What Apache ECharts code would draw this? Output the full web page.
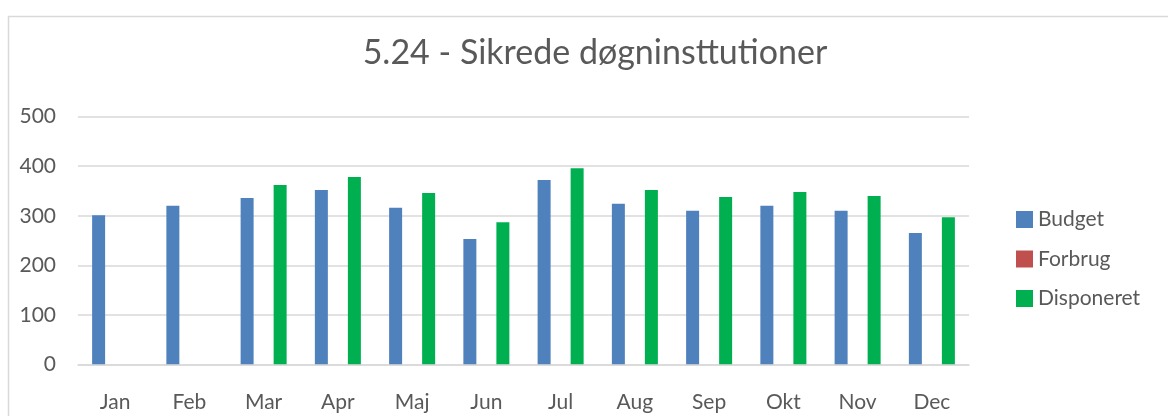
<!DOCTYPE html>
<html>
<head>
<meta charset="utf-8">
<script src="https://cdn.jsdelivr.net/npm/echarts@6/dist/echarts.min.js"></script>
<style>
  html, body { margin: 0; padding: 0; background: #fff; }
  #chart { width: 1168px; height: 416px; }
</style>
</head>
<body>
<div id="chart"></div>
<script>
// 5.24 - Sikrede døgninsttutioner: budget vs. disponeret pr. måned
const months = ['Jan', 'Feb', 'Mar', 'Apr', 'Maj', 'Jun', 'Jul', 'Aug', 'Sep', 'Okt', 'Nov', 'Dec'];
const budget = [301, 320, 336, 352, 316, 253, 372, 324, 310, 320, 310, 265];
const forbrug = [null, null, null, null, null, null, null, null, null, null, null, null];
const disponeret = [null, null, 362, 378, 346, 287, 396, 352, 338, 348, 340, 297];
const yTicks = [0, 100, 200, 300, 400, 500];

const FONT = 'Lato, "Open Sans", sans-serif';
const TEXT = '#595959';
const GRID = '#d9d9d9';

const chart = echarts.init(document.getElementById('chart'), null, { renderer: 'canvas' });

const bar = (name, data, color) => ({
  name,
  type: 'bar',
  data,
  barWidth: 13,
  barGap: '27%',
  itemStyle: { color },
  animation: false,
});

chart.setOption({
  backgroundColor: '#fff',
  animation: false,
  title: {
    text: '5.24 - Sikrede døgninsttutioner',
    left: 590,
    textAlign: 'center',
    top: 31,
    textStyle: { fontFamily: FONT, fontSize: 34, fontWeight: 'normal', color: TEXT },
  },
  // ramme om diagramområdet (højre/bund uden for billedet)
  graphic: [{
    type: 'rect',
    left: 6, top: 14,
    shape: { width: 1300, height: 600 },
    style: { fill: 'none', stroke: GRID, lineWidth: 1.5 },
    silent: true,
  }],
  grid: { left: 78, right: 199, top: 116.7, bottom: 51.7, containLabel: false },
  legend: {
    orient: 'vertical',
    left: 1016,
    top: 209,
    padding: 0,
    itemWidth: 17,
    itemHeight: 17,
    itemGap: 18.5,
    icon: 'rect',
    textStyle: { fontFamily: FONT, fontSize: 21, color: TEXT },
    data: ['Budget', 'Forbrug', 'Disponeret'],
  },
  xAxis: {
    type: 'category',
    data: months,
    axisLine: { lineStyle: { color: GRID, width: 1.5 } },
    axisTick: { show: false },
    axisLabel: { fontFamily: FONT, fontSize: 21, color: TEXT, margin: 27 },
  },
  yAxis: {
    type: 'value',
    min: yTicks[0],
    max: yTicks[yTicks.length - 1],
    interval: 100,
    axisLine: { show: false },
    axisTick: { show: false },
    splitLine: { lineStyle: { color: GRID, width: 1.5 } },
    axisLabel: { fontFamily: FONT, fontSize: 21, color: TEXT, margin: 22 },
  },
  series: [
    bar('Budget', budget, '#4f81bd'),
    bar('Forbrug', forbrug, '#c0504d'),
    bar('Disponeret', disponeret, '#00b050'),
  ],
});
</script>
</body>
</html>
